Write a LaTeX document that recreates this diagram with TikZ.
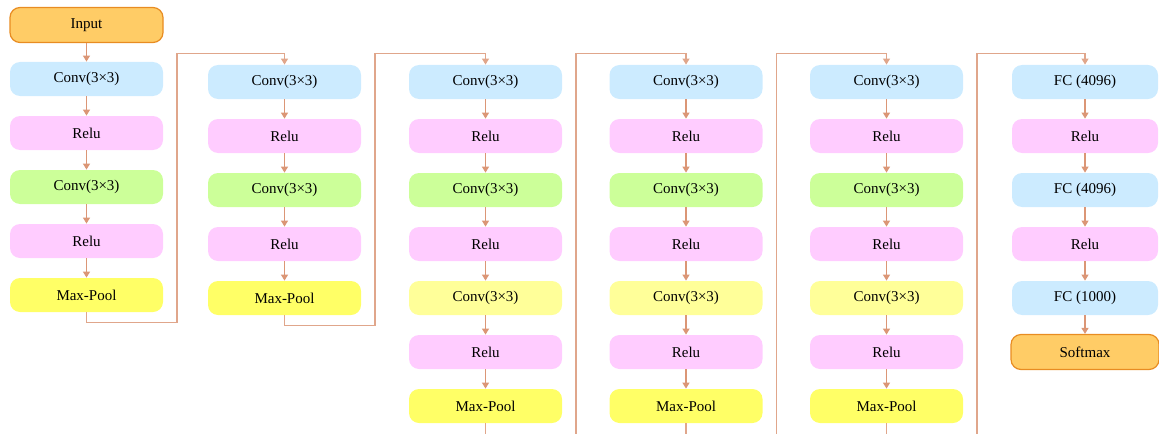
\documentclass[tikz,border=0pt]{standalone}
\usepackage{fontspec}
\setmainfont{Liberation Serif}
\usetikzlibrary{arrows.meta}
\definecolor{cblue}{RGB}{204,235,255}
\definecolor{cpink}{RGB}{255,204,255}
\definecolor{cgreen}{RGB}{204,255,153}
\definecolor{cyel}{RGB}{255,255,102}
\definecolor{clyel}{RGB}{255,255,153}
\definecolor{corange}{RGB}{255,204,102}
\definecolor{corangeb}{RGB}{232,140,34}
\definecolor{carrow}{RGB}{219,150,118}
\tikzset{
  blk/.style={rounded corners=5pt, minimum width=76.5pt, minimum height=17pt, inner sep=0pt, draw=none,
    font=\fontsize{7.5}{9}\selectfont, text=black},
  fcblk/.style={blk, minimum width=73pt},
  bl/.style={blk, fill=cblue},
  pk/.style={blk, fill=cpink},
  gr/.style={blk, fill=cgreen},
  ye/.style={blk, fill=cyel},
  ly/.style={blk, fill=clyel},
  io/.style={blk, fill=corange, draw=corangeb, line width=0.6pt, minimum height=17.5pt},
  arr/.style={draw=carrow, line width=0.6pt, -{Triangle[width=3.5pt,length=3pt]}},
  link/.style={arr, draw=carrow!85},
}
\begin{document}
\begin{tikzpicture}[x=0.5pt,y=0.5pt]
\useasboundingbox (0,0) rectangle (1159,-433);
% column 1
\node[io] (in) at (86.5,-25) {Input};
\node[bl] (a1) at (86.5,-79) {Conv(3×3)};
\node[pk] (a2) at (86.5,-133) {Relu};
\node[gr] (a3) at (86.5,-187) {Conv(3×3)};
\node[pk] (a4) at (86.5,-241) {Relu};
\node[ye] (a5) at (86.5,-295) {Max-Pool};
\draw[arr] (in) -- (a1);
\draw[arr] (a1) -- (a2);
\draw[arr] (a2) -- (a3);
\draw[arr] (a3) -- (a4);
\draw[arr] (a4) -- (a5);
% column 2
\node[bl] (b1) at (284.5,-82) {Conv(3×3)};
\node[pk] (b2) at (284.5,-136) {Relu};
\node[gr] (b3) at (284.5,-190) {Conv(3×3)};
\node[pk] (b4) at (284.5,-244) {Relu};
\node[ye] (b5) at (284.5,-298) {Max-Pool};
\draw[arr] (b1) -- (b2);
\draw[arr] (b2) -- (b3);
\draw[arr] (b3) -- (b4);
\draw[arr] (b4) -- (b5);
% columns 3-5
\foreach \c/\x in {c/485.5, d/686, e/886.5}{
  \node[bl] (\c1) at (\x,-82) {Conv(3×3)};
  \node[pk] (\c2) at (\x,-136) {Relu};
  \node[gr] (\c3) at (\x,-190) {Conv(3×3)};
  \node[pk] (\c4) at (\x,-244) {Relu};
  \node[ly] (\c5) at (\x,-298) {Conv(3×3)};
  \node[pk] (\c6) at (\x,-352) {Relu};
  \node[ye] (\c7) at (\x,-406) {Max-Pool};
  \draw[arr] (\c1) -- (\c2);
  \draw[arr] (\c2) -- (\c3);
  \draw[arr] (\c3) -- (\c4);
  \draw[arr] (\c4) -- (\c5);
  \draw[arr] (\c5) -- (\c6);
  \draw[arr] (\c6) -- (\c7);
}
% column 6
\node[fcblk, fill=cblue] (f1) at (1085,-82) {FC (4096)};
\node[fcblk, fill=cpink] (f2) at (1085,-136) {Relu};
\node[fcblk, fill=cblue] (f3) at (1085,-190) {FC (4096)};
\node[fcblk, fill=cpink] (f4) at (1085,-244) {Relu};
\node[fcblk, fill=cblue] (f5) at (1085,-298) {FC (1000)};
\node[io, minimum width=74pt] (sm) at (1085,-352) {Softmax};
\draw[arr] (f1) -- (f2);
\draw[arr] (f2) -- (f3);
\draw[arr] (f3) -- (f4);
\draw[arr] (f4) -- (f5);
\draw[arr] (f5) -- (sm);
% connectors between columns
\coordinate (ja) at (177,-322.5);
\coordinate (jb) at (177,-53.5);
\coordinate (ka) at (375,-325.5);
\coordinate (kb) at (375,-53.5);
\coordinate (la) at (576,-460);
\coordinate (lb) at (576,-53.5);
\coordinate (ma) at (776.5,-460);
\coordinate (mb) at (776.5,-53.5);
\coordinate (na) at (977,-460);
\coordinate (nb) at (977,-53.5);
\draw[link] (a5.south) |- (ja) -- (jb) -| (b1.north);
\draw[link] (b5.south) |- (ka) -- (kb) -| (c1.north);
\draw[link] (c7.south) |- (la) -- (lb) -| (d1.north);
\draw[link] (d7.south) |- (ma) -- (mb) -| (e1.north);
\draw[link] (e7.south) |- (na) -- (nb) -| (f1.north);
\end{tikzpicture}
\end{document}
